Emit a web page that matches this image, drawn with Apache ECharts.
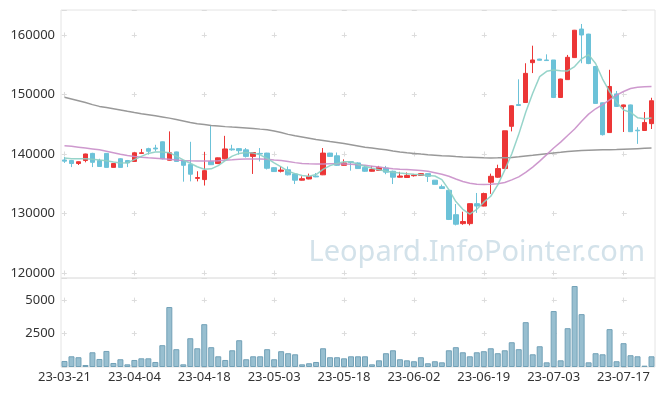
<!DOCTYPE html>
<html><head><meta charset="utf-8">
<script src="https://cdn.jsdelivr.net/npm/echarts@6/dist/echarts.min.js"></script>
<style>html,body{margin:0;padding:0;background:#fff}#c{width:665px;height:396px}</style>
</head><body><div id="c"></div>
<script>
const dates = ['23-03-21','23-03-22','23-03-23','23-03-24','23-03-27','23-03-28','23-03-29','23-03-30','23-03-31',
'23-04-03','23-04-04','23-04-05','23-04-06','23-04-07','23-04-10','23-04-11','23-04-12','23-04-13','23-04-14','23-04-17','23-04-18','23-04-19','23-04-20','23-04-21','23-04-24','23-04-25','23-04-26','23-04-27','23-04-28',
'23-05-02','23-05-03','23-05-04','23-05-08','23-05-09','23-05-10','23-05-11','23-05-12','23-05-15','23-05-16','23-05-17','23-05-18','23-05-19','23-05-22','23-05-23','23-05-24','23-05-25','23-05-26','23-05-30','23-05-31',
'23-06-01','23-06-02','23-06-05','23-06-07','23-06-08','23-06-09','23-06-12','23-06-13','23-06-14','23-06-15','23-06-16','23-06-19','23-06-20','23-06-21','23-06-22','23-06-23','23-06-26','23-06-27','23-06-28','23-06-29','23-06-30',
'23-07-03','23-07-04','23-07-05','23-07-06','23-07-07','23-07-10','23-07-11','23-07-12','23-07-13','23-07-14','23-07-17','23-07-18','23-07-19','23-07-20','23-07-21'];

const opens = [139000,138900,138400,138900,140100,138900,140100,137750,139200,138900,
138750,140100,140900,141000,142050,138950,140350,138900,138250,135900,
135700,138750,138400,139200,140850,140900,140700,139600,140100,140150,
137700,137100,137350,136650,135600,135800,136300,136500,140150,139700,
138100,138700,138500,137750,137100,137250,137650,137100,136100,136050,
136350,136400,136700,135600,134500,133900,129800,128300,128300,131650,
131250,135250,136100,137550,144650,148300,148650,155350,155950,155800,
155800,149500,152500,156200,161000,160150,154700,148600,143600,150100,
147950,148250,144000,143950,145100];
const closes = [138800,138400,138700,140000,138600,137900,137750,138400,137750,138500,
140200,140200,140450,140850,139200,140200,138750,138100,136600,136050,
137200,138200,139350,140850,140700,140550,139600,140250,140000,137600,
137050,137300,136500,135600,135850,136200,136150,140150,139600,138100,
138500,138550,137550,137100,137400,137750,136950,136100,136300,136400,
136450,136700,136250,134900,134200,129000,128200,128650,131650,131250,
133350,136250,137550,143900,148100,148150,153550,155800,155750,155700,
149500,152600,156250,160800,160000,155200,148500,143250,151350,148000,
148250,143750,143900,145300,148950];
const lows = [138500,137800,138150,138600,137800,137900,137750,137750,137700,137800,
138700,140050,139900,140450,139100,138900,138700,135350,135400,135400,
134700,138150,138300,139100,140550,139900,139400,136650,138750,137400,
137000,136900,136400,134950,135550,135750,136100,136450,139500,138000,
138050,137200,137500,137000,137050,137200,136600,134950,136050,136000,
136200,136350,135300,134900,134150,128900,128000,128100,128000,130100,
131200,133300,136000,137500,143800,148100,148600,153600,155700,155650,
149400,149450,152450,156150,155250,155100,148450,143100,143550,147900,
143700,143700,141700,143900,144200];
const highs = [139500,139000,138750,140050,140200,139200,140100,138400,139300,139000,
140300,140850,141050,141550,142100,143800,140400,139000,142050,137100,
140350,144750,139400,143050,141550,141000,141000,140300,141000,140200,
137800,137900,137900,136700,136250,136700,136800,141000,140200,140250,
139100,138800,138600,138100,138000,138000,138000,137200,137000,136900,
136650,136800,136750,135600,134850,134000,131600,130300,131700,133450,
133500,136700,138200,143900,148150,152550,155250,158200,156000,156750,
155800,152650,156650,160850,161850,160200,154750,148650,154150,150600,
148300,148300,144500,147050,149450];
const volumes = [450,800,730,150,1100,600,1200,300,580,200,
525,650,650,375,1630,4480,1330,200,2150,1400,
3200,1480,800,525,1250,2000,580,800,800,1330,
580,1180,1030,950,200,280,375,1400,730,730,
650,800,800,800,200,500,1030,1250,580,500,
430,730,280,430,350,1250,1480,1100,800,1100,
1180,1400,1030,1250,1850,1330,3350,950,1550,350,
4180,500,2900,6050,3950,350,1030,950,2830,430,
1780,880,800,100,800];
const ma5 = [139330,139220,139210,139200,139100,139000,138850,138650,138500,138520,
139050,139600,140100,140330,140350,140220,139650,139000,138450,137850,
137450,137500,138050,138900,139650,140100,140250,140150,139850,139250,
138500,137850,137100,136700,136400,136250,136550,137400,138050,138400,
138700,138700,138250,137950,137600,137350,137100,136950,136800,136700,
136600,136530,136400,136300,135700,134000,132000,130700,129900,130700,
131900,132900,134800,137300,140000,143300,147000,150200,153000,153900,
154100,154010,153960,154700,156000,156700,155200,152600,150500,148700,
147400,147000,146100,145930,146030];
const ma20 = [141400,141300,141150,141000,140850,140700,140450,140200,139950,139750,
139570,139450,139350,139280,139200,139100,139000,138920,138860,138830,
138820,138820,138850,138950,139020,139100,139160,139180,139170,139120,
139000,138900,138750,138550,138420,138350,138320,138330,138370,138360,
138330,138280,138210,138100,137950,137800,137650,137520,137450,137390,
137330,137230,137100,136850,136600,136250,135800,135380,135100,134900,
134860,134900,135000,135200,135650,136150,136900,137800,138800,139900,
141000,142000,143100,144200,145500,146700,147600,148300,149100,149900,
150500,151000,151200,151300,151330];
const ma60 = [149550,149250,148950,148650,148300,148000,147800,147600,147400,147180,
146970,146780,146600,146420,146230,146030,145800,145550,145300,145100,
144950,144800,144700,144600,144520,144450,144380,144300,144180,144070,
143850,143600,143300,143050,142850,142650,142450,142280,142110,141950,
141750,141550,141350,141150,141000,140850,140700,140500,140350,140220,
140100,139980,139880,139800,139720,139650,139570,139500,139450,139400,
139350,139330,139350,139390,139430,139550,139680,139800,139930,140050,
140170,140280,140400,140520,140580,140630,140670,140700,140720,140750,
140800,140850,140900,140950,141000];

const candleData = dates.map((d, i) => [opens[i], closes[i], lows[i], highs[i]]);
const FONT = '"Noto Sans", sans-serif';
const gridLine = '#e4e4e4';
const plain = v => String(v);

const chart = echarts.init(document.getElementById('c'), null, {renderer: 'canvas'});
chart.setOption({
  animation: false,
  backgroundColor: '#fff',
  textStyle: {fontFamily: FONT},
  grid: [
    {left: 61, right: 10, top: 10, height: 268, show: true, borderColor: gridLine, borderWidth: 1},
    {left: 61, right: 10, top: 278, bottom: 29, show: true, borderColor: gridLine, borderWidth: 1}
  ],
  xAxis: [
    {type: 'category', gridIndex: 0, data: dates, boundaryGap: true,
     axisLine: {show: false}, axisTick: {show: false}, axisLabel: {show: false},
     splitLine: {show: true, interval: 9, alignWithLabel: true,
       lineStyle: {color: '#dcdcdc', width: 1, type: [5, 54.5], dashOffset: 37}}},
    {type: 'category', gridIndex: 1, data: dates, boundaryGap: true,
     axisLine: {show: false}, axisTick: {show: false},
     axisLabel: {interval: 9, color: '#333', fontSize: 13, fontFamily: FONT, margin: 4},
     splitLine: {show: true, interval: 9, alignWithLabel: true,
       lineStyle: {color: '#dcdcdc', width: 1, type: [5, 28.46], dashOffset: 13.86}}}
  ],
  yAxis: [
    {type: 'value', gridIndex: 0, min: 119160, max: 164200, splitNumber: 5,
     axisLine: {show: false}, axisTick: {show: false},
     axisLabel: {color: '#333', fontSize: 13, fontFamily: FONT, margin: 6, showMinLabel: false, showMaxLabel: false, formatter: plain},
     splitLine: {show: true, lineStyle: {color: '#dcdcdc', width: 1, type: [5, 65], dashOffset: 69.2}}},
    {type: 'value', gridIndex: 1, min: 0, max: 6650, interval: 2500,
     axisLine: {show: false}, axisTick: {show: false},
     axisLabel: {color: '#333', fontSize: 13, fontFamily: FONT, margin: 6, showMinLabel: false, showMaxLabel: false, formatter: plain},
     splitLine: {show: true, lineStyle: {color: '#dcdcdc', width: 1, type: [5, 65], dashOffset: 69.2}}}
  ],
  graphic: [{
    type: 'text', x: 645, y: 253, z: 0, silent: true,
    style: {text: 'Leopard.InfoPointer.com', fill: '#d3e2ea', fontSize: 29, fontFamily: FONT,
            align: 'right', verticalAlign: 'middle', textAlign: 'right', textVerticalAlign: 'middle'}
  }],
  series: [
    {type: 'candlestick', xAxisIndex: 0, yAxisIndex: 0, data: candleData, barWidth: 5,
     itemStyle: {color: '#ec3636', color0: '#6cc2d8', borderColor: '#ec3636', borderColor0: '#6cc2d8', borderWidth: 1}},
    {type: 'line', xAxisIndex: 0, yAxisIndex: 0, data: ma60, symbol: 'none',
     lineStyle: {color: '#999999', width: 1.5}, z: 3},
    {type: 'line', xAxisIndex: 0, yAxisIndex: 0, data: ma20, symbol: 'none',
     lineStyle: {color: '#c98ec9', width: 1.5, opacity: 0.9}, z: 3},
    {type: 'line', xAxisIndex: 0, yAxisIndex: 0, data: ma5, symbol: 'none',
     lineStyle: {color: '#8ccfc4', width: 1.5, opacity: 0.9}, z: 3},
    {type: 'bar', xAxisIndex: 1, yAxisIndex: 1, data: volumes, barWidth: 6,
     itemStyle: {color: '#98bfd0', borderColor: '#72a1b7', borderWidth: 1}}
  ]
});
</script>
</body></html>
